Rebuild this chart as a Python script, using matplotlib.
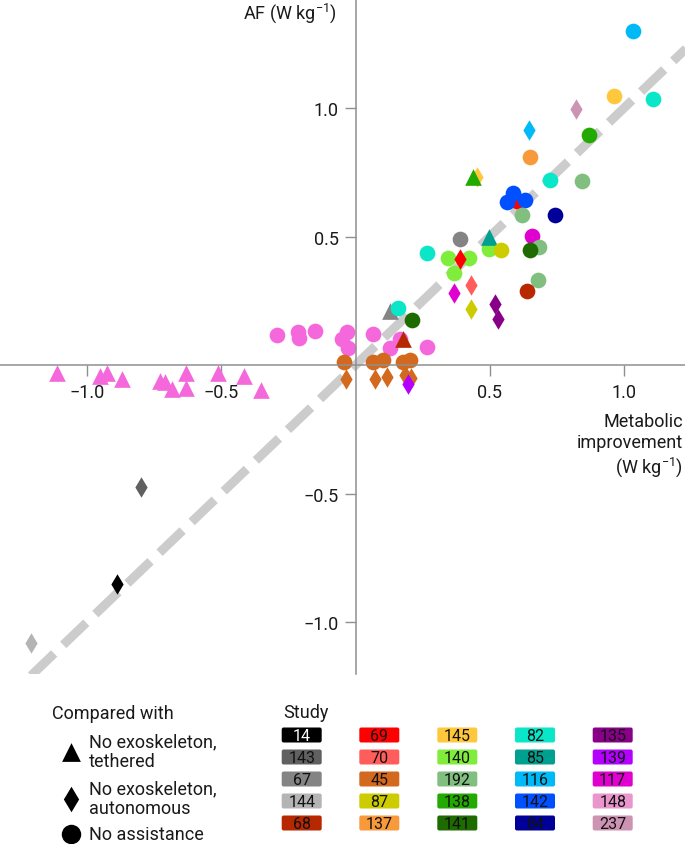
import matplotlib
matplotlib.use("Agg")
import matplotlib.pyplot as plt
from matplotlib.patches import FancyBboxPatch

plt.rcParams['font.family'] = ['Roboto', 'DejaVu Sans']
plt.rcParams['mathtext.fontset'] = 'custom'
plt.rcParams['mathtext.rm'] = 'Roboto'
plt.rcParams['mathtext.it'] = 'Roboto:italic'
plt.rcParams['mathtext.bf'] = 'Roboto:bold'
plt.rcParams['lines.scale_dashes'] = False

# ---------------- data ----------------
study_ids = ['14', '143', '67', '144', '68',
             '69', '70', '45', '87', '137',
             '145', '140', '192', '138', '141',
             '82', '85', '116', '142', '84',
             '135', '139', '117', '148', '237']
study_colors = ['#000000', '#606060', '#848484', '#b4b4b4', '#b82800',
                '#ff0000', '#ff5c5c', '#d2691e', '#cccc00', '#f89a3c',
                '#ffc83c', '#80ec3c', '#80bf80', '#22aa00', '#1e6b00',
                '#0ae6c8', '#00a090', '#00baf8', '#0050ff', '#000099',
                '#880088', '#b400ff', '#e000d0', '#e896cc', '#cc93b3']
point_color_override = {'148': '#f468dc'}

# comparison: t = no exoskeleton tethered, d = no exoskeleton autonomous, c = no assistance
pt_study = ['148'] * 12 + ['148'] * 11 + ['45'] * 5 + ['45'] * 5 + [
    '139', '68', '67', '82', '141', '82', '67',
    '140', '140', '140', '140', '69', '70', '117', '87', '135', '135',
    '85', '87', '145', '138', '137', '116', '82', '192',
    '69', '142', '142', '142', '192', '84', '117', '192', '141', '192', '68',
    '237', '138', '145', '82', '116', '143', '14', '144']
pt_comp = ['t'] * 12 + ['c'] * 11 + ['c'] * 5 + ['d'] * 5 + [
    'd', 't', 't', 'c', 'c', 'c', 'c',
    'c', 'c', 'c', 'c', 'd', 'd', 'd', 'd', 'd', 'd',
    't', 'c', 'd', 't', 'c', 'd', 'c', 'c',
    'c', 'c', 'c', 'c', 'c', 'c', 'c', 'c', 'c', 'c', 'c',
    'd', 'c', 'c', 'c', 'c', 'd', 'd', 'd']
metabolic_improvement = [
    -1.111, -0.952, -0.927, -0.869, -0.728, -0.709, -0.685, -0.632, -0.632, -0.513, -0.415, -0.353,
    -0.291, -0.213, -0.209, -0.151, -0.033, -0.051, -0.027, 0.066, 0.128, 0.166, 0.265,
    -0.042, 0.066, 0.104, 0.178, 0.203,
    -0.035, 0.073, 0.116, 0.185, 0.205,
    0.197, 0.178, 0.128, 0.160, 0.209, 0.268, 0.389,
    0.346, 0.424, 0.368, 0.498, 0.389, 0.429, 0.367, 0.429, 0.520, 0.530,
    0.498, 0.541, 0.451, 0.439, 0.650, 0.647, 0.724, 0.842,
    0.600, 0.585, 0.563, 0.631, 0.619, 0.743, 0.656, 0.685, 0.650, 0.681, 0.640,
    0.820, 0.871, 0.963, 1.109, 1.035, -0.800, -0.887, -1.209]
af_values = [
    -0.031, -0.044, -0.031, -0.054, -0.061, -0.066, -0.093, -0.031, -0.091, -0.031, -0.044, -0.096,
    0.117, 0.130, 0.104, 0.131, 0.127, 0.101, 0.065, 0.119, 0.065, 0.101, 0.069,
    0.013, 0.010, 0.021, 0.013, 0.021,
    -0.054, -0.055, -0.045, -0.040, -0.050,
    -0.074, 0.101, 0.209, 0.222, 0.176, 0.436, 0.490,
    0.415, 0.415, 0.358, 0.451, 0.412, 0.311, 0.280, 0.218, 0.237, 0.179,
    0.497, 0.447, 0.732, 0.730, 0.808, 0.914, 0.721, 0.715,
    0.639, 0.669, 0.636, 0.643, 0.585, 0.585, 0.503, 0.458, 0.447, 0.332, 0.289,
    0.996, 0.895, 1.045, 1.035, 1.301, -0.476, -0.852, -1.082]

x_ticks = [-1.0, -0.5, 0.5, 1.0]
x_tick_labels = ['\u22121.0', '\u22120.5', '0.5', '1.0']
y_ticks = [-1.0, -0.5, 0.5, 1.0]
y_tick_labels = ['\u22121.0', '\u22120.5', '0.5', '1.0']
comp_labels = ['No exoskeleton,\ntethered', 'No exoskeleton,\nautonomous', 'No assistance']

# ---------------- figure ----------------
W, H = 685, 845
fig = plt.figure(figsize=(W / 100, H / 100), dpi=100)
ax = fig.add_axes([0, (H - 675) / H, 1, 675 / H])
ax.set_xlim(-1.324, 1.227)
ax.set_ylim(-1.202, 1.424)

axis_col = '#8f8f8f'
txt_col = '#1a1a1a'
for s in ['top', 'right']:
    ax.spines[s].set_visible(False)
ax.spines['left'].set_position(('data', 0))
ax.spines['bottom'].set_position(('data', 0))
for s in ['left', 'bottom']:
    ax.spines[s].set_color(axis_col)
    ax.spines[s].set_linewidth(1.1)

ax.set_xticks(x_ticks)
ax.set_xticklabels(x_tick_labels)
ax.set_yticks(y_ticks)
ax.set_yticklabels(y_tick_labels)
ax.tick_params(direction='out', length=8, width=1.0, color=axis_col,
               labelsize=13, labelcolor=txt_col)
ax.tick_params(axis='x', pad=5)
ax.tick_params(axis='y', pad=4)
ax.patch.set_visible(False)

# identity line
ax.plot([-1.5, 1.5], [-1.5, 1.5], color='#cccccc', lw=6.5,
        dashes=(23, 9), solid_capstyle='butt', dash_capstyle='butt', zorder=1)

marker_map = {'t': '^', 'd': 'd', 'c': 'o'}
size_map = {'t': 12.0 ** 2, 'd': 10.4 ** 2, 'c': 11.3 ** 2}
color_lookup = dict(zip(study_ids, study_colors))
for i, (st, cp, xv, yv) in enumerate(zip(pt_study, pt_comp, metabolic_improvement, af_values)):
    col = point_color_override.get(st, color_lookup[st])
    ax.scatter([xv], [yv], marker=marker_map[cp], s=size_map[cp], color=col,
               linewidths=0, zorder=2 + i * 0.01)

# axis titles
fig.text(337 / W, 1 - 13 / H, 'AF (W kg$^{-1}$)', ha='right', va='center', fontsize=13,
         color=txt_col)
fig.text(683 / W, 1 - 446 / H, 'Metabolic\nimprovement\n(W kg$^{-1}$)', ha='right',
         va='center', multialignment='right', fontsize=13, color=txt_col, linespacing=1.2)

# ---------------- legends ----------------
lax = fig.add_axes([0, 0, 1, 1])
lax.set_xlim(0, W)
lax.set_ylim(H, 0)
lax.axis('off')

lax.text(52, 714, 'Compared with', ha='left', va='center', fontsize=13, color=txt_col)
leg_y_marker = [753, 800, 835]
leg_y_text = [752, 799, 835]
leg_sizes = [13.5 ** 2, 13 ** 2, 14 ** 2]
for key, ym, yt, lab, sz in zip(['t', 'd', 'c'], leg_y_marker, leg_y_text, comp_labels, leg_sizes):
    lax.scatter([71], [ym], marker=marker_map[key], s=sz, color='black', linewidths=0)
    lax.text(89, yt, lab, ha='left', va='center', fontsize=13, color=txt_col,
             linespacing=1.1)

lax.text(283, 713, 'Study', ha='left', va='center', fontsize=13, color=txt_col)
col_x = [281.7, 359.3, 437.3, 515.0, 592.7]
row_y = [736, 758, 780, 802, 824]
bw, bh = 40, 15
for k, (sid, scol) in enumerate(zip(study_ids, study_colors)):
    c, r = divmod(k, 5)
    x0 = col_x[c]
    yc = row_y[r]
    box = FancyBboxPatch((x0 + 2, yc - bh / 2 + 2), bw - 4, bh - 4,
                         boxstyle='round,pad=2', facecolor=scol, edgecolor='none')
    lax.add_patch(box)
    lax.text(x0 + bw / 2, yc + 0.5, sid, ha='center', va='center', fontsize=11.5,
             color='white' if sid == '14' else '#111111')

fig.savefig('out.png', dpi=100)
